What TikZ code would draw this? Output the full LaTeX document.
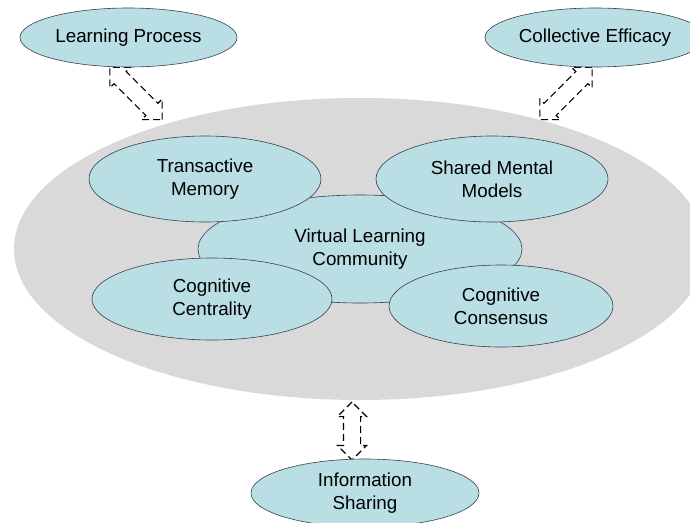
\documentclass[tikz,border=0pt]{standalone}
\usepackage{fontspec}
\setmainfont{Liberation Sans}
\usepackage{tikz}
\usetikzlibrary{shapes}
\usetikzlibrary{shapes.arrows}
\usetikzlibrary{positioning}

\definecolor{bubblefill}{RGB}{185,222,228}
\definecolor{cloudgray}{RGB}{217,217,217}
\definecolor{edgegray}{RGB}{55,65,75}

\begin{document}
\begin{tikzpicture}[
        x = 1pt, y = -1pt,
        bubble/.style = {draw = edgegray, line width = 0.6pt, fill = bubblefill, ellipse,
                         inner sep = 0pt, align = center,
                         font = \fontsize{18.8}{23}\selectfont},
        cloud/.style = {fill = cloudgray, ellipse, inner sep = 0pt},
        link/.style = {double arrow, draw = black, fill = white, line width = 1.1pt,
                       dash pattern = on 7pt off 4pt, double arrow tip angle = 90,
                       double arrow head extend = 6pt, inner xsep = 0pt, inner ysep = 8pt},
        ]
    \useasboundingbox (0,0) rectangle (690,522);
    % background
    \node[cloud, minimum width = 692pt, minimum height = 302pt] (team) at (360,249) {};
    % arrows
    \node[link, minimum height = 74pt, rotate = -45] (lpLink) at (136,93.5) {};
    \node[link, minimum height = 74pt, rotate = 45] (ceLink) at (566,93.5) {};
    \node[link, minimum height = 58pt, rotate = 90] (isLink) at (352,431) {};
    % outer factors
    \node[bubble, minimum width = 217pt, minimum height = 59pt] (lp) at (128.5,37.5) {Learning Process};
    \node[bubble, minimum width = 220pt, minimum height = 59pt] (ce) at (595,37.5) {Collective Efficacy};
    \node[bubble, minimum width = 228pt, minimum height = 68pt] (is) at (365,493) {Information\\Sharing};
    % community
    \node[bubble, minimum width = 324pt, minimum height = 108pt] (vlc) at (360,249) {Virtual Learning\\Community};
    \node[bubble, minimum width = 232pt, minimum height = 86pt] (tm) at (205,179) {Transactive\\Memory};
    \node[bubble, minimum width = 232pt, minimum height = 86pt] (smm) at (492,179) {Shared Mental\\Models};
    \node[bubble, minimum width = 240pt, minimum height = 82pt] (cc) at (212,299) {Cognitive\\Centrality};
    \node[bubble, minimum width = 224pt, minimum height = 82pt] (cs) at (501,306) {Cognitive\\Consensus};
\end{tikzpicture}
\end{document}
